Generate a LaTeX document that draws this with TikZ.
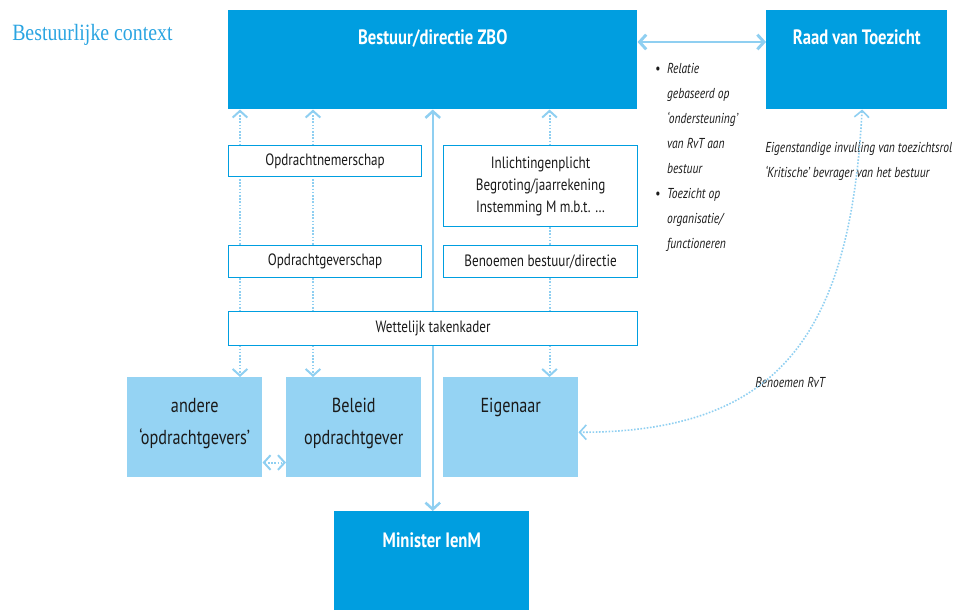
\documentclass[tikz,border=0pt]{standalone}
\usepackage{fontspec}
\setmainfont{PT Sans}[FakeStretch=0.8]
\newfontfamily\titlefont{Liberation Serif}[FakeStretch=0.85]
\usetikzlibrary{arrows.meta, backgrounds}

\definecolor{zbodark}{HTML}{009EE0}
\definecolor{zbolight}{HTML}{95D3F3}
\definecolor{zboline}{HTML}{8FCFF1}
\definecolor{zbotext}{HTML}{1A1A1A}
\definecolor{zbotitle}{HTML}{2AA4E1}

\begin{document}
\begin{tikzpicture}[x=0.75pt,y=-0.75pt,>={Straight Barb[length=5pt,width=11pt]},
		every node/.style={text=zbotext},
		darkbox/.style={anchor=north west,fill=zbodark,inner sep=0pt},
		lightbox/.style={anchor=north west,fill=zbolight,inner sep=0pt,minimum width=101.25pt,minimum height=75pt},
		whitebox/.style={anchor=north west,fill=white,draw=zbodark,line width=0.9pt,align=center,font=\fontsize{12.3}{16.5}\selectfont},
		head/.style={anchor=base,text=white,font=\bfseries\fontsize{15.6}{18}\selectfont},
		role/.style={anchor=north,align=center,inner sep=0pt,font=\fontsize{15.2}{24}\selectfont},
		note/.style={align=left,inner sep=0pt,font=\itshape\fontsize{10.8}{18.75}\selectfont},
		solidarrow/.style={<->,draw=zboline,line width=1.9pt},
		dotarrow/.style={<->,draw=zboline,line width=1.5pt,dash pattern=on 1.2pt off 1.2pt}]
		\useasboundingbox (0,0) rectangle (964,610);

		\node[anchor=west,inner sep=0pt,text=zbotitle,font=\titlefont\fontsize{17.5}{20}\selectfont] (titel) at (12,35) {Bestuurlijke context};

		% blue blocks
		\node[darkbox,minimum width=306.75pt,minimum height=74.25pt,
			label={[head,yshift=-26pt]north:Bestuur/directie ZBO}] (bestuur) at (228,10) {};
		\node[darkbox,minimum width=135.75pt,minimum height=74.25pt,
			label={[head,yshift=-26pt]north:Raad van Toezicht}] (rvt) at (766,10) {};
		\node[darkbox,minimum width=146.25pt,minimum height=75pt,
			label={[head,yshift=-27.5pt]north:Minister IenM}] (minister) at (334,511) {};

		% relations
		\node[whitebox,minimum width=144.75pt,minimum height=23.25pt] (nemer) at (228,145) {Opdrachtnemerschap};
		\node[whitebox,minimum width=145.5pt,minimum height=60.75pt] (plicht) at (443,145) {Inlichtingenplicht\\Begroting/jaarrekening\\Instemming M m.b.t. \dots};
		\node[whitebox,minimum width=144.75pt,minimum height=24pt] (gever) at (228,245) {Opdrachtgeverschap};
		\node[whitebox,minimum width=145.5pt,minimum height=24pt] (benoem) at (443,245) {Benoemen bestuur/directie};
		\node[whitebox,minimum width=306.75pt,minimum height=25.5pt] (kader) at (228,311) {Wettelijk takenkader};

		% roles of the minister
		\node[lightbox,label={[role,yshift=-15.5pt]north:andere\\‘opdrachtgevers’}] (andere) at (127,377) {};
		\node[lightbox,label={[role,yshift=-15.5pt]north:Beleid\\opdrachtgever}] (beleid) at (286,377) {};
		\node[lightbox,label={[role,yshift=-15.5pt]north:Eigenaar}] (eigenaar) at (443,377) {};

		% notes
		\node[note,anchor=north west] (relatie) at (655,56) {\begin{tabular}{@{}l@{\hspace{5pt}}l@{}}
			\textup{\textbullet} & Relatie\\ & gebaseerd op\\ & ‘ondersteuning’\\ & van RvT aan\\ & bestuur\\
			\textup{\textbullet} & Toezicht op\\ & organisatie/\\ & functioneren\end{tabular}};
		\node[note,anchor=north west] (eigen) at (765,142) {Eigenstandige invulling van toezichtsrol\\‘Kritische’ bevrager van het bestuur};
		\node[note,anchor=west] (benrvt) at (755,382) {Benoemen RvT};

		\begin{pgfonlayer}{background}
			\coordinate (p1) at ([xshift=9pt]bestuur.south west);
			\coordinate (p2) at ([xshift=63.75pt]bestuur.south west);
			\coordinate (p3) at ([xshift=-66pt]bestuur.south east);
			\draw[dotarrow] (p1) -- (p1 |- andere.north);
			\draw[dotarrow] (p2) -- (p2 |- beleid.north);
			\draw[dotarrow] (p3) -- (p3 |- eigenaar.north);
			\draw[solidarrow] (bestuur.south) -- (bestuur.south |- minister.north);
		\end{pgfonlayer}

		\coordinate (r1) at ([yshift=-24pt]bestuur.north east);
		\draw[solidarrow,line width=2.2pt] (r1) -- (r1 -| rvt.west);
		\coordinate (q1) at ([yshift=11.25pt]andere.south east);
		\draw[dotarrow] (q1) -- (q1 -| beleid.west);
		\draw[dotarrow,line width=1.2pt] ([xshift=4pt]rvt.south) .. controls +(-12,226) and +(200,0) .. ([yshift=-3.75pt]eigenaar.east);
\end{tikzpicture}
\end{document}
